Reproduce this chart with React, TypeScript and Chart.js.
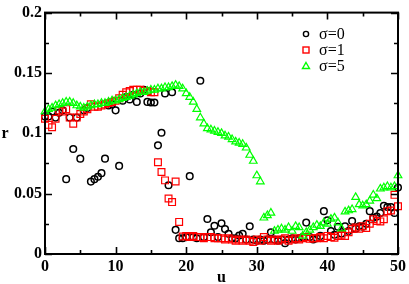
import React, { useEffect, useRef } from "react";
import { Chart, registerables } from "chart.js";

Chart.register(...registerables);

const U = [
  0, 0.5, 1, 1.5, 2, 2.5, 3, 3.5, 4, 4.5, 5, 5.5, 6, 6.5, 7, 7.5, 8, 8.5, 9, 9.5,
  10, 10.5, 11, 11.5, 12, 12.5, 13, 13.5, 14, 14.5, 15, 15.5, 16, 16.5, 17, 17.5, 18, 18.5, 19, 19.5,
  20, 20.5, 21, 21.5, 22, 22.5, 23, 23.5, 24, 24.5, 25, 25.5, 26, 26.5, 27, 27.5, 28, 28.5, 29, 29.5,
  30, 30.5, 31, 31.5, 32, 32.5, 33, 33.5, 34, 34.5, 35, 35.5, 36, 36.5, 37, 37.5, 38, 38.5, 39, 39.5,
  40, 40.5, 41, 41.5, 42, 42.5, 43, 43.5, 44, 44.5, 45, 45.5, 46, 46.5, 47, 47.5, 48, 48.5, 49, 49.5,
  50,
];

const sigma0 = [
  0.114, 0.114, 0.118, 0.113, 0.117, 0.119, 0.062, 0.113, 0.087, 0.113, 0.079, 0.119, 0.121, 0.06, 0.062, 0.064, 0.067, 0.079, 0.123, 0.124,
  0.119, 0.073, 0.127, 0.13, 0.128, 0.132, 0.126, 0.133, 0.136, 0.126, 0.1255, 0.1255, 0.09, 0.1005, 0.133, 0.057, 0.134, 0.02, 0.013, 0.013,
  0.014, 0.0645, 0.014, 0.013, 0.1435, 0.014, 0.029, 0.018, 0.0234, 0.014, 0.0255, 0.0207, 0.0167, 0.013, 0.013, 0.0153, 0.0167, 0.012, 0.023, 0.012,
  0.011, 0.012, 0.011, 0.012, 0.018, 0.012, 0.011, 0.012, 0.009, 0.012, 0.013, 0.012, 0.013, 0.014, 0.026, 0.014, 0.012, 0.013, 0.015, 0.0355,
  0.028, 0.019, 0.016, 0.0226, 0.017, 0.023, 0.019, 0.0274, 0.021, 0.023, 0.0226, 0.025, 0.0355, 0.03, 0.031, 0.034, 0.04, 0.039, 0.039, 0.034,
  0.055,
];

const sigma1 = [
  0.112, 0.107, 0.105, 0.112, 0.119, 0.118, 0.12, 0.113, 0.108, 0.113, 0.116, 0.118, 0.12, 0.124, 0.122, 0.122, 0.123, 0.124, 0.125, 0.126,
  0.127, 0.129, 0.132, 0.134, 0.135, 0.136, 0.136, 0.136, 0.135, 0.135, 0.134, 0.134, 0.076, 0.068, 0.061, 0.046, 0.043, 0.06, 0.0266, 0.0145,
  0.015, 0.014, 0.015, 0.014, 0.014, 0.013, 0.014, 0.014, 0.013, 0.013, 0.013, 0.012, 0.013, 0.012, 0.011, 0.012, 0.011, 0.012, 0.011, 0.01,
  0.012, 0.011, 0.014, 0.012, 0.011, 0.012, 0.011, 0.012, 0.013, 0.011, 0.012, 0.013, 0.012, 0.013, 0.014, 0.0127, 0.013, 0.013, 0.014, 0.013,
  0.015, 0.014, 0.0134, 0.015, 0.016, 0.015, 0.018, 0.0207, 0.022, 0.021, 0.023, 0.0215, 0.025, 0.0288, 0.0274, 0.027, 0.0288, 0.0355, 0.036, 0.049,
  0.0395,
];

const sigma5 = [
  0.118, 0.12, 0.121, 0.123, 0.124, 0.125, 0.126, 0.126, 0.125, 0.123, 0.122, 0.121, 0.122, 0.123, 0.124, 0.124, 0.125, 0.125, 0.126, 0.127,
  0.127, 0.128, 0.129, 0.13, 0.131, 0.132, 0.133, 0.134, 0.134, 0.135, 0.136, 0.136, 0.137, 0.137, 0.138, 0.138, 0.139, 0.14, 0.139, 0.137,
  0.133, 0.13, 0.126, 0.12, 0.113, 0.108, 0.104, 0.103, 0.102, 0.101, 0.1, 0.098, 0.097, 0.095, 0.093, 0.092, 0.091, 0.088, 0.082, 0.077,
  0.065, 0.06, 0.03, 0.032, 0.034, 0.019, 0.02, 0.021, 0.02, 0.022, 0.019, 0.023, 0.022, 0.015, 0.018, 0.02, 0.022, 0.024, 0.023, 0.026,
  0.025, 0.029, 0.03, 0.026, 0.021, 0.035, 0.036, 0.037, 0.047, 0.041, 0.04, 0.041, 0.044, 0.049, 0.046, 0.054, 0.055, 0.056, 0.055, 0.056,
  0.065,
];

const xTicks = [0, 10, 20, 30, 40, 50];
const yTicks = [0, 0.05, 0.1, 0.15, 0.2];
const yTickLabels = ["0", "0.05", "0.1", "0.15", "0.2"];
const seriesLabels = ["\u03c3=0", "\u03c3=1", "\u03c3=5"];

const SERIF = '"Liberation Serif", "DejaVu Serif", serif';

const framePlugin = {
  id: "frameTicks",
  afterDatasetsDraw(chart: any) {
    const { ctx, chartArea: a, scales } = chart;
    const xs = scales.x;
    const ys = scales.y;
    ctx.save();
    ctx.strokeStyle = "#000";
    ctx.lineWidth = 2;
    ctx.lineCap = "butt";
    ctx.strokeRect(a.left, a.top, a.right - a.left, a.bottom - a.top);
    ctx.lineWidth = 1.6;
    const major = 7;
    const minor = 4;
    for (let v = 0; v <= 50; v += 5) {
      const len = v % 10 === 0 ? major : minor;
      const px = Math.round(xs.getPixelForValue(v)) + 0.5;
      ctx.beginPath();
      ctx.moveTo(px, a.bottom);
      ctx.lineTo(px, a.bottom - len);
      ctx.moveTo(px, a.top);
      ctx.lineTo(px, a.top + len);
      ctx.stroke();
    }
    for (let i = 0; i <= 8; i++) {
      const v = i * 0.025;
      const len = i % 2 === 0 ? major : minor;
      const py = Math.round(ys.getPixelForValue(v)) + 0.5;
      ctx.beginPath();
      ctx.moveTo(a.left, py);
      ctx.lineTo(a.left + len, py);
      ctx.moveTo(a.right, py);
      ctx.lineTo(a.right - len, py);
      ctx.stroke();
    }
    ctx.restore();
  },
  afterDraw(chart: any) {
    const { ctx, chartArea: a } = chart;
    ctx.save();
    ctx.fillStyle = "#000";
    ctx.font = `bold 16px ${SERIF}`;
    ctx.textAlign = "center";
    ctx.textBaseline = "middle";
    ctx.fillText("r", 5, (a.top + a.bottom) / 2 + 1);
    const mx = 306;
    const rows = [34, 50, 66];
    ctx.font = `16px ${SERIF}`;
    ctx.textAlign = "left";
    rows.forEach((y, i) => {
      ctx.lineWidth = 1.4;
      if (i === 0) {
        ctx.strokeStyle = "#000";
        ctx.beginPath();
        ctx.arc(mx, y, 2.6, 0, Math.PI * 2);
        ctx.stroke();
      } else if (i === 1) {
        ctx.strokeStyle = "#ff0000";
        ctx.strokeRect(mx - 3, y - 3, 6, 6);
      } else {
        ctx.strokeStyle = "#00ff00";
        ctx.beginPath();
        ctx.moveTo(mx, y - 3.5);
        ctx.lineTo(mx + 3.5, y + 2.5);
        ctx.lineTo(mx - 3.5, y + 2.5);
        ctx.closePath();
        ctx.stroke();
      }
      ctx.fillStyle = "#000";
      ctx.fillText(seriesLabels[i], 319, y + 1);
    });
    ctx.restore();
  },
};

function pts(ys: number[]) {
  return ys.map((y, i) => ({ x: U[i], y }));
}

export default function App() {
  const ref = useRef<HTMLCanvasElement | null>(null);
  useEffect(() => {
    document.body.style.margin = "0";
    const canvas = ref.current;
    if (!canvas) return;
    const chart = new Chart(canvas, {
      type: "scatter",
      data: {
        datasets: [
          {
            label: seriesLabels[0],
            data: pts(sigma0),
            pointStyle: "circle",
            pointRadius: 3.3,
            borderColor: "#000000",
            backgroundColor: "rgba(0,0,0,0)",
            borderWidth: 1.5,
            clip: false,
            order: 2,
          },
          {
            label: seriesLabels[1],
            data: pts(sigma1),
            pointStyle: "rect",
            pointRadius: 4.8,
            borderColor: "#ff0000",
            backgroundColor: "rgba(0,0,0,0)",
            borderWidth: 1.2,
            clip: false,
            order: 1,
          },
          {
            label: seriesLabels[2],
            data: pts(sigma5),
            pointStyle: "triangle",
            pointRadius: 4.4,
            borderColor: "#00ff00",
            backgroundColor: "rgba(0,0,0,0)",
            borderWidth: 1.2,
            clip: false,
            order: 0,
          },
        ],
      },
      options: {
        animation: false,
        responsive: false,
        maintainAspectRatio: false,
        events: [],
        layout: { padding: { left: 0, right: 9, top: 6, bottom: 0 } },
        plugins: {
          legend: { display: false },
          tooltip: { enabled: false },
          title: { display: false },
        },
        scales: {
          x: {
            type: "linear",
            min: 0,
            max: 50,
            afterFit: (s: any) => {
              s.height = 30;
            },
            afterBuildTicks: (s: any) => {
              s.ticks = xTicks.map((v) => ({ value: v }));
            },
            ticks: {
              color: "#000",
              font: { family: SERIF, size: 16, weight: "bold" },
              padding: 3,
              maxRotation: 0,
              autoSkip: false,
              callback: (v: any) => String(v),
            },
            grid: { display: false, drawTicks: false },
            border: { display: false },
            title: {
              display: true,
              text: "u",
              color: "#000",
              font: { family: SERIF, size: 16, weight: "bold" },
              padding: { top: 0, bottom: -3 },
            },
          },
          y: {
            type: "linear",
            min: 0,
            max: 0.2,
            afterFit: (s: any) => {
              s.width = 45;
            },
            afterBuildTicks: (s: any) => {
              s.ticks = yTicks.map((v) => ({ value: v }));
            },
            ticks: {
              color: "#000",
              font: { family: SERIF, size: 16, weight: "bold" },
              padding: 3,
              autoSkip: false,
              callback: (v: any) => {
                const idx = yTicks.findIndex((t) => Math.abs(t - v) < 1e-9);
                return idx >= 0 ? yTickLabels[idx] : "";
              },
            },
            grid: { display: false, drawTicks: false },
            border: { display: false },
          },
        },
      },
      plugins: [framePlugin],
    });
    return () => chart.destroy();
  }, []);
  return (
    <div style={{ position: "relative", width: 409, height: 284 }}>
      <canvas ref={ref} width={409} height={284} style={{ display: "block" }} />
    </div>
  );
}
